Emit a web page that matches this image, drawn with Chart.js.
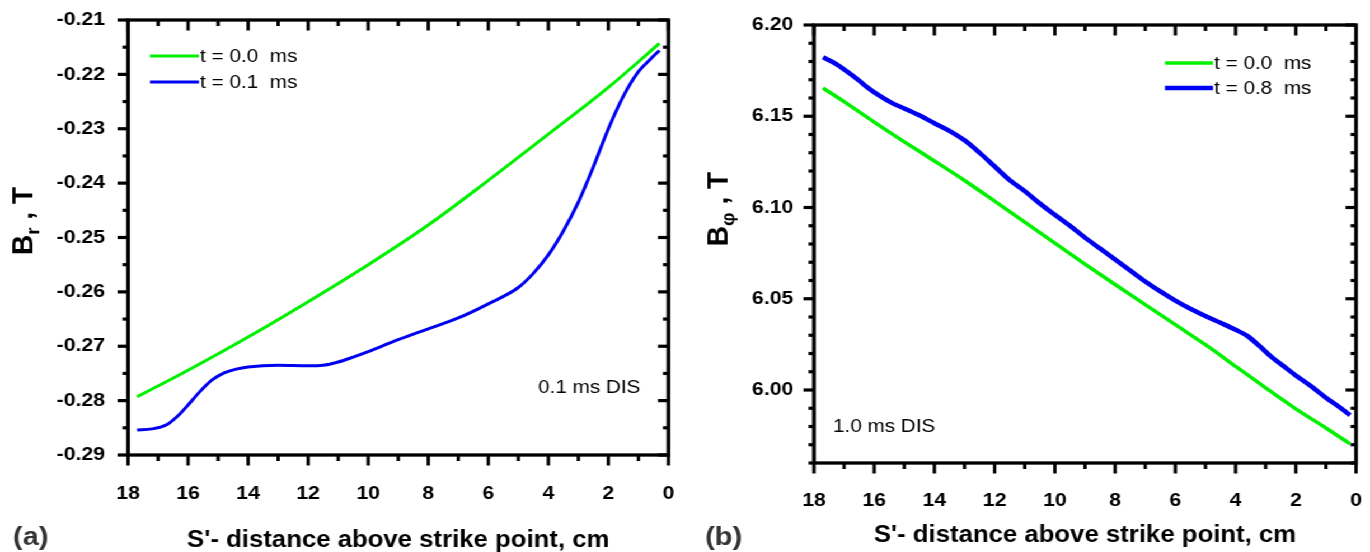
<!DOCTYPE html>
<html>
<head>
<meta charset="utf-8">
<script src="https://cdn.jsdelivr.net/npm/chart.js@4.4.0/dist/chart.umd.min.js"></script>
<style>
  html, body { margin: 0; padding: 0; background: #fff; overflow: hidden; }
  #stage { position: absolute; left: 0; top: 0; width: 1224px; height: 552px;
           transform: scaleX(1.1193); transform-origin: 0 0; }
  #stage canvas { position: absolute; top: 0; }
</style>
</head>
<body>
<div id="stage">
  <canvas id="panelA" width="612" height="552" style="left:0"></canvas>
  <canvas id="panelB" width="612" height="552" style="left:612px"></canvas>
</div>
<script>
// ---- (a) radial field B_r along the divertor leg, 0.1 ms DIS ----
const sBr0 = [17.7, 16, 14, 12, 10, 8, 6, 4, 2, 0.3];
const br0  = [-0.2793, -0.2744, -0.2683, -0.2618, -0.2550, -0.2477, -0.2395, -0.2310, -0.2224, -0.2143];

const sBr1 = [17.7, 17.2, 16.7, 16.3, 16.0, 15.6, 15.2, 14.8, 14.4, 14.0, 13.0, 12.0, 11.5, 11.0, 10.5,
              10.0, 9.0, 8.0, 7.0, 6.0, 5.0, 4.5, 4.0, 3.5, 3.0, 2.5, 2.0, 1.5, 1.0, 0.6, 0.3];
const br1  = [-0.2854, -0.2852, -0.2844, -0.2826, -0.2808, -0.2783, -0.2762, -0.2749, -0.2742, -0.2738,
              -0.2735, -0.2736, -0.2735, -0.2729, -0.2720, -0.2710, -0.2688, -0.2668, -0.2648, -0.2622,
              -0.2592, -0.2566, -0.2532, -0.2488, -0.2435, -0.2370, -0.2300, -0.2240, -0.2195, -0.2172, -0.2156];

// ---- (b) toroidal field B_phi, 1.0 ms DIS ----
const sBp0 = [17.7, 17, 16, 15, 14, 13, 12, 11, 10, 9, 8, 7, 6, 5, 4, 3, 2, 1, 0.2];
const bp0  = [6.1655, 6.1580, 6.1468, 6.1360, 6.1255, 6.1148, 6.1035, 6.0920, 6.0805, 6.0690,
              6.0578, 6.0468, 6.0358, 6.0248, 6.0130, 6.0012, 5.9897, 5.9792, 5.9705];

const sBp1 = [17.7, 17.3, 16.9, 16.5, 16.2, 15.8, 15.4, 15.0, 14.5, 14.0, 13.5, 13.0, 12.5, 12.0, 11.5,
              11.0, 10.5, 10.0, 9.5, 9.0, 8.5, 8.0, 7.5, 7.0, 6.5, 6.0, 5.5, 5.0, 4.5, 4.0, 3.6, 3.2,
              2.8, 2.4, 2.0, 1.5, 1.0, 0.5, 0.2];
const bp1  = [6.1823, 6.1790, 6.1745, 6.1695, 6.1655, 6.1610, 6.1572, 6.1543, 6.1505, 6.1462, 6.1420,
              6.1368, 6.1300, 6.1225, 6.1150, 6.1090, 6.1022, 6.0960, 6.0900, 6.0835, 6.0775, 6.0715,
              6.0655, 6.0595, 6.0540, 6.0490, 6.0445, 6.0405, 6.0368, 6.0330, 6.0295, 6.0240, 6.0180,
              6.0130, 6.0080, 6.0022, 5.9958, 5.9900, 5.9862];

// ---- axis ticks ----
const sTicks    = [18, 16, 14, 12, 10, 8, 6, 4, 2, 0];
const brTicks   = [-0.29, -0.28, -0.27, -0.26, -0.25, -0.24, -0.23, -0.22, -0.21];
const bphiTicks = [6.00, 6.05, 6.10, 6.15, 6.20];

const FONT = "'Liberation Sans', Arial, Helvetica, sans-serif";
const GREEN = '#00f000';
const BLUE = '#0000f0';
const XSTRETCH = 1.1193;   // the stage is widened by this factor

const pts = (xs, ys) => xs.map((x, i) => ({ x: x, y: ys[i] }));

// Frame with Origin-style ticks: outward on left/bottom, inward on top/right
const framePlugin = {
  id: 'frame',
  afterDraw(chart, args, o) {
    const { ctx, chartArea: a } = chart;
    const xs = chart.scales.x, ys = chart.scales.y;
    ctx.save();
    ctx.strokeStyle = '#000';
    ctx.lineCap = 'butt';
    ctx.lineWidth = 3;
    const seg = (x1, y1, x2, y2) => { ctx.beginPath(); ctx.moveTo(x1, y1); ctx.lineTo(x2, y2); ctx.stroke(); };
    const isMajor = (list, v) => list.some(t => Math.abs(t - v) < 1e-7);
    const nx = Math.round((xs.max - xs.min) / o.xMinor);
    for (let i = 0; i <= nx; i++) {
      const v = xs.min + i * o.xMinor;
      const px = xs.getPixelForValue(v);
      const L = isMajor(o.xMajor, v) ? 10.5 : 6;
      seg(px, a.bottom, px, a.bottom + L);
      seg(px, a.top, px, a.top + L);
    }
    ctx.lineWidth = 3.2;
    const ny = Math.round((ys.max - ys.min) / o.yMinor);
    for (let i = 0; i <= ny; i++) {
      const v = ys.min + i * o.yMinor;
      const py = ys.getPixelForValue(v);
      const L = (isMajor(o.yMajor, v) ? 10.5 : 5.5) / XSTRETCH;
      seg(a.left - L, py, a.left, py);
      seg(a.right - L, py, a.right, py);
    }
    ctx.lineWidth = 3.3;
    ctx.strokeRect(a.left, a.top, a.right - a.left, a.bottom - a.top);
    ctx.restore();
  }
};

// Legend, annotation, panel tag and the rotated y-axis title
const textPlugin = {
  id: 'panelText',
  afterDraw(chart, args, o) {
    const ctx = chart.ctx;
    ctx.save();
    // legend
    chart.data.datasets.forEach((ds, i) => {
      const y = o.legend.y + i * o.legend.dy;
      ctx.strokeStyle = ds.borderColor;
      ctx.lineWidth = ds.borderWidth;
      ctx.beginPath();
      ctx.moveTo(o.legend.x0, y);
      ctx.lineTo(o.legend.x1, y);
      ctx.stroke();
      ctx.fillStyle = '#000';
      ctx.font = `18.5px ${FONT}`;
      ctx.textBaseline = 'middle';
      ctx.textAlign = 'left';
      ctx.fillText(ds.label, o.legend.x1 + 1, y + 1);
    });
    // annotation
    ctx.font = `18.5px ${FONT}`;
    ctx.fillStyle = '#000';
    ctx.textBaseline = 'middle';
    ctx.fillText(o.note.text, o.note.x, o.note.y);
    // panel tag
    ctx.font = `bold 26px ${FONT}`;
    ctx.fillStyle = '#333';
    ctx.fillText(o.tag.text, o.tag.x, o.tag.y);
    // y-axis title with subscript; the glyph height is kept unstretched
    const t = o.yTitle, f = 28, fs = 19;
    ctx.translate(t.x, t.y);
    ctx.rotate(-Math.PI / 2);
    ctx.scale(1, 1 / XSTRETCH);
    ctx.fillStyle = '#000';
    ctx.textBaseline = 'alphabetic';
    ctx.font = `bold ${f}px ${FONT}`;
    const w1 = ctx.measureText(t.main).width;
    const w3 = ctx.measureText(t.rest).width;
    ctx.font = `bold ${fs}px ${FONT}`;
    const w2 = ctx.measureText(t.sub).width;
    let x = -(w1 + w2 + w3) / 2;
    const base = 0.358 * f;
    ctx.font = `bold ${f}px ${FONT}`;
    ctx.fillText(t.main, x, base); x += w1;
    ctx.font = `bold ${fs}px ${FONT}`;
    ctx.fillText(t.sub, x, base + 0.24 * f); x += w2;
    ctx.font = `bold ${f}px ${FONT}`;
    ctx.fillText(t.rest, x, base);
    ctx.restore();
  }
};

function makePanel(id, cfg) {
  const tickFont = { family: FONT, size: 19, weight: 'bold' };
  // the invisible grid tick length sets the gap between axis and labels
  const hiddenTicks = len => ({ display: true, drawOnChartArea: false, drawTicks: true,
                                tickLength: len, color: 'rgba(0,0,0,0)' });
  return new Chart(document.getElementById(id), {
    type: 'line',
    data: {
      datasets: cfg.series.map(s => ({
        label: s.label,
        data: s.data,
        borderColor: s.color,
        borderWidth: s.width,
        pointRadius: 0,
        fill: false,
        cubicInterpolationMode: 'monotone'
      }))
    },
    options: {
      responsive: false,
      animation: false,
      devicePixelRatio: 1,
      layout: { padding: cfg.padding },
      plugins: {
        legend: { display: false },
        tooltip: { enabled: false },
        frame: cfg.frame,
        panelText: cfg.text
      },
      scales: {
        x: {
          type: 'linear', reverse: true, min: 0, max: 18,
          grid: hiddenTicks(cfg.xGap), border: { display: false },
          afterBuildTicks: s => { s.ticks = sTicks.map(v => ({ value: v })); },
          afterFit: s => { s.height = cfg.xHeight; },
          ticks: { font: tickFont, color: '#000', padding: 0, maxRotation: 0, autoSkip: false,
                   callback: v => String(v) },
          title: { display: true, text: "S'- distance above strike point, cm", color: '#000',
                   font: { family: FONT, size: 23, weight: 'bold', lineHeight: 1 }, padding: 0 }
        },
        y: {
          type: 'linear', min: cfg.yMin, max: cfg.yMax,
          grid: hiddenTicks(cfg.yGap), border: { display: false },
          afterBuildTicks: s => { s.ticks = cfg.yTicks.map(v => ({ value: v })); },
          afterFit: s => { s.width = cfg.yWidth; },
          ticks: { font: tickFont, color: '#000', padding: 0, autoSkip: false,
                   callback: v => v.toFixed(2) }
        }
      }
    },
    plugins: [framePlugin, textPlugin]
  });
}

makePanel('panelA', {
  series: [
    { label: 't = 0.0  ms', data: pts(sBr0, br0), color: GREEN, width: 3 },
    { label: 't = 0.1  ms', data: pts(sBr1, br1), color: BLUE, width: 3 }
  ],
  padding: { left: 0, right: 14.8, top: 20, bottom: 0 },
  xHeight: 97, xGap: 27, yWidth: 114.4, yGap: 20.5,
  yMin: -0.29, yMax: -0.21, yTicks: brTicks,
  frame: { xMinor: 1, xMajor: sTicks, yMinor: 0.005, yMajor: brTicks },
  text: {
    legend: { x0: 134, x1: 177.8, y: 56, dy: 26 },
    note: { text: '0.1 ms DIS', x: 480.7, y: 388 },
    tag: { text: '(a)', x: 11.6, y: 538 },
    yTitle: { main: 'B', sub: 'r', rest: ' , T', x: 20.5, y: 221 }
  }
});

makePanel('panelB', {
  series: [
    { label: 't = 0.0  ms', data: pts(sBp0, bp0), color: GREEN, width: 3.5 },
    { label: 't = 0.8  ms', data: pts(sBp1, bp1), color: BLUE, width: 4.5 }
  ],
  padding: { left: 0, right: 12.5, top: 25, bottom: 5 },
  xHeight: 84, xGap: 26, yWidth: 115.2, yGap: 18.4,
  yMin: 5.96, yMax: 6.20, yTicks: bphiTicks,
  frame: { xMinor: 1, xMajor: sTicks, yMinor: 0.01, yMajor: bphiTicks },
  text: {
    legend: { x0: 428.8, x1: 471.7, y: 63, dy: 25 },
    note: { text: '1.0 ms DIS', x: 132.2, y: 427 },
    tag: { text: '(b)', x: 17.9, y: 538 },
    yTitle: { main: 'B', sub: 'φ', rest: ' , T', x: 29.5, y: 209 }
  }
});
</script>
</body>
</html>
